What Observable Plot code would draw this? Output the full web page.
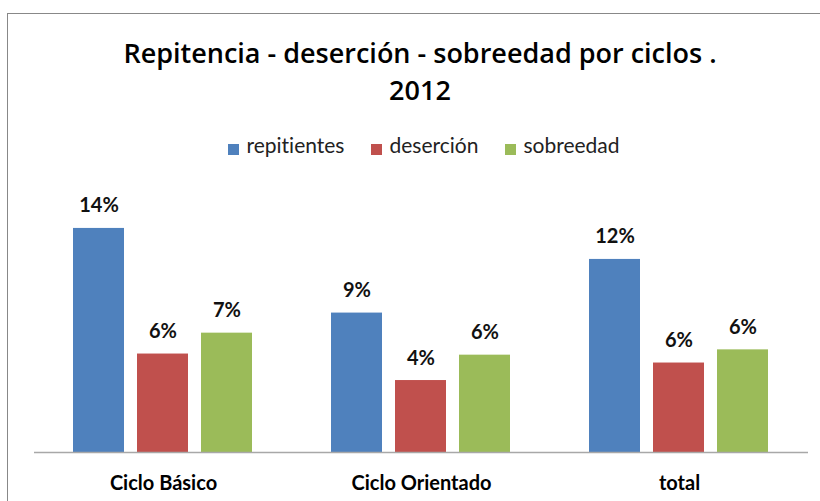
<!DOCTYPE html>
<html><head><meta charset="utf-8">
<script src="https://cdn.jsdelivr.net/npm/d3@7"></script>
<script src="https://cdn.jsdelivr.net/npm/@observablehq/plot@0.6"></script>
<style>
body{margin:0;background:#fff;}
#chart{position:relative;width:820px;height:501px;overflow:hidden;font-family:Lato, sans-serif;color:#000;font-variant-ligatures:none;}
#frame{position:absolute;left:7px;top:13px;right:-10px;bottom:-10px;border-top:1.5px solid #888;border-left:1.5px solid #888;}
#title{position:absolute;left:0;width:840px;top:34px;text-align:center;font-family:"Open Sans", sans-serif;font-weight:600;font-size:27px;line-height:37px;}
#legend{position:absolute;left:0;width:848px;top:133px;display:flex;justify-content:center;gap:27px;font-size:21px;line-height:24px;color:#222;}
.item{display:flex;align-items:center;}
.sw{width:11px;height:11px;margin-right:7px;position:relative;top:4px;}
#plot{position:absolute;left:0;top:170px;}
</style>
</head><body>
<div id="chart">
  <div id="frame"></div>
  <div id="title">Repitencia - deserción - sobreedad por ciclos .<br>2012</div>
  <div id="legend"></div>
  <div id="plot"></div>
</div>
<script>
const categories = ["Ciclo Básico", "Ciclo Orientado", "total"];
const series = ["repitientes", "deserción", "sobreedad"];
const repitientes = [13.95, 8.68, 12.02];
const desercion = [6.13, 4.48, 5.57];
const sobreedad = [7.43, 6.06, 6.39];
const colors = ["#4F81BD", "#C0504D", "#9BBB59"];

const seriesValues = [repitientes, desercion, sobreedad];
const data = categories.flatMap((c, i) => seriesValues.map((arr, j) => ({category: c, serie: series[j], value: arr[i]})));

const legend = document.getElementById("legend");
series.forEach((s, j) => {
  const it = document.createElement("div");
  it.className = "item";
  const sw = document.createElement("span");
  sw.className = "sw";
  sw.style.background = colors[j];
  const t = document.createElement("span");
  t.textContent = s;
  it.appendChild(sw); it.appendChild(t);
  legend.appendChild(it);
});

const chart = Plot.plot({
  width: 820, height: 331,
  marginTop: 25, marginBottom: 49, marginLeft: 33, marginRight: 11,
  style: {fontFamily: "Lato, sans-serif", background: "transparent", color: "#000", overflow: "visible"},
  fx: {domain: categories, padding: 0, label: null},
  x: {domain: series, paddingInner: 0.2, paddingOuter: 0.6, axis: null},
  y: {domain: [0, 16], axis: null},
  color: {domain: series, range: colors},
  marks: [
    Plot.barY(data, {fx: "category", x: "serie", y: "value", fill: "serie"}),
    Plot.ruleY([0], {stroke: "#a8a8a8", strokeWidth: 1.5}),
    Plot.text(data, {fx: "category", x: "serie", y: "value", text: d => Math.round(d.value) + "%", lineAnchor: "bottom", dy: -16, fontSize: 20, fontWeight: "bold", fill: "#111"}),
    Plot.axisFx({anchor: "bottom", tickSize: 0, tickPadding: 23, fontSize: 20, fontWeight: "bold", label: null})
  ]
});
document.getElementById("plot").appendChild(chart);
</script>
</body></html>
